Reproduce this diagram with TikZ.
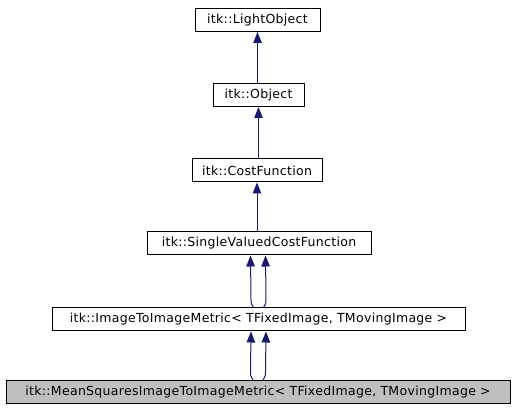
\documentclass[tikz,border=0pt]{standalone}
\usepackage{fontspec}
\newfontfamily\dvs[LetterSpace=2.5]{DejaVu Sans}
\usetikzlibrary{arrows.meta}
\definecolor{edgeblue}{HTML}{191970}
\definecolor{boxgray}{HTML}{BFBFBF}
\tikzset{
  cls/.style={draw=black, line width=1pt, minimum height=23pt, inner sep=0pt,
    font=\dvs\fontsize{12.5}{14}\selectfont, text=black, fill=white},
  edge/.style={draw=edgeblue, line width=1pt,
    -{Triangle[length=11pt,width=8.5pt]}, fill=none},
}
\begin{document}
\begin{tikzpicture}[x=1pt,y=-1pt]
\useasboundingbox[fill=white] (0,0) rectangle (515,411);
\node[cls, minimum width=125pt] (lo) at (257.5,20) {itk::LightObject};
\node[cls, minimum width=91pt] (ob) at (258.5,95) {itk::Object};
\node[cls, minimum width=130pt] (cf) at (257,170.5) {itk::CostFunction};
\node[cls, minimum width=224pt] (sv) at (259,243.5) {itk::SingleValuedCostFunction};
\node[cls, minimum width=413pt] (im) at (258.5,319.5) {itk::ImageToImageMetric< TFixedImage, TMovingImage >};
\node[cls, minimum width=504pt, fill=boxgray] (ms) at (258,392) {itk::MeanSquaresImageToImageMetric< TFixedImage, TMovingImage >};

\draw[edge] (ob.north -| lo.south) -- (lo.south);
\draw[edge] (cf.north -| ob.south) -- (ob.south);
\draw[edge] (sv.north -| cf.south) -- (cf.south);

\draw[edge] ([xshift=-5pt]im.north) .. controls +(-1.5,-3) and +(0,5) .. ([xshift=-7.5pt,yshift=8pt]im.north) -- ([xshift=-8.5pt]sv.south);
\draw[edge] ([xshift=5pt]im.north) .. controls +(1.5,-3) and +(0,5) .. ([xshift=7.5pt,yshift=8pt]im.north) -- ([xshift=6.5pt]sv.south);

\draw[edge] ([xshift=-5pt]ms.north) .. controls +(-1.5,-3) and +(0,5) .. ([xshift=-7.5pt,yshift=8pt]ms.north) -- ([xshift=-7.5pt]im.south);
\draw[edge] ([xshift=5pt]ms.north) .. controls +(1.5,-3) and +(0,5) .. ([xshift=7.5pt,yshift=8pt]ms.north) -- ([xshift=7.5pt]im.south);
\end{tikzpicture}
\end{document}
